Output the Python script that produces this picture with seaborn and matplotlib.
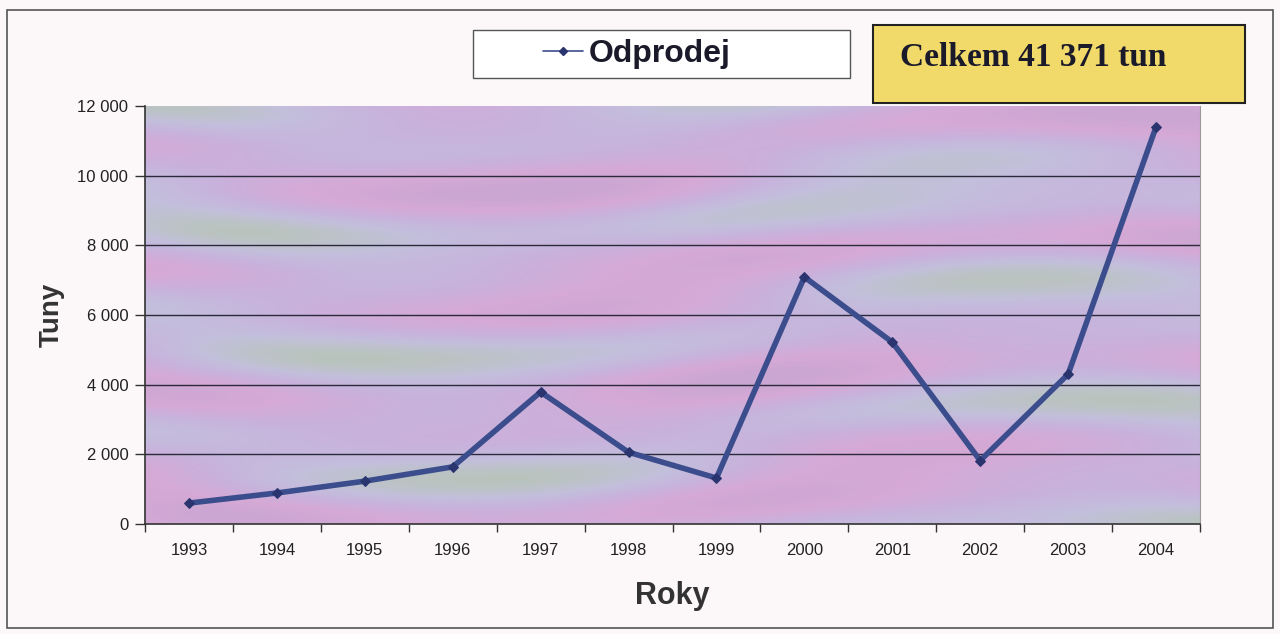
import numpy as np
import pandas as pd
import matplotlib
matplotlib.use("Agg")
import matplotlib.pyplot as plt
import seaborn as sns
from matplotlib.colors import LinearSegmentedColormap
from matplotlib.lines import Line2D
from matplotlib.patches import Rectangle
from matplotlib.ticker import FixedLocator, FuncFormatter

# ---- data ----
years = ["1993", "1994", "1995", "1996", "1997", "1998",
         "1999", "2000", "2001", "2002", "2003", "2004"]
odprodej = [600, 890, 1230, 1640, 3790, 2060, 1320, 7090, 5220, 1820, 4300, 11400]
series_name = "Odprodej"
total_label = "Celkem 41 371 tun"
y_ticks = [0, 2000, 4000, 6000, 8000, 10000, 12000]

df = pd.DataFrame({"Roky": years, "Tuny": odprodej})

sns.set_theme(style="white")
plt.rcParams["font.family"] = ["Liberation Sans", "DejaVu Sans"]

fig = plt.figure(figsize=(12.8, 6.34), dpi=100, facecolor="#fcf8fa")
ax = fig.add_axes([145/1280, 1-524/634, (1200-145)/1280, (524-106)/634])

# textured plot-area background (deterministic pattern)
nx, ny = 600, 240
gx, gy = np.meshgrid(np.linspace(0, 1, nx), np.linspace(0, 1, ny))
field = (np.sin(gy*23 + 2.2*np.sin(gx*5.5)) * 0.6
         + np.sin(gx*9 + gy*4 + 1.3) * 0.35
         + np.cos(gy*41 - gx*3) * 0.25)
cmap = LinearSegmentedColormap.from_list(
    "tex", ["#b9c4bd", "#c3bfdc", "#c8b2dc", "#d6a9d6", "#caa6d2"])
ax.imshow(field, extent=(-0.5, 11.5, 0, 12000), aspect="auto",
          cmap=cmap, origin="lower", zorder=0, interpolation="bicubic")

for v in y_ticks[1:-1]:
    ax.axhline(v, color="#2a2a3a", lw=1.0, zorder=1)

sns.lineplot(data=df, x="Roky", y="Tuny", ax=ax, sort=False,
             color="#3b4d8c", lw=4.0, marker="D", markersize=5,
             markerfacecolor="#2a3570", markeredgecolor="#2a3570", zorder=3)

ax.set_xlim(-0.5, 11.5)
ax.set_ylim(0, 12000)

ax.yaxis.set_major_locator(FixedLocator(y_ticks))
ax.yaxis.set_major_formatter(FuncFormatter(lambda v, p: f"{int(v):,}".replace(",", " ")))
ax.set_xticks(range(len(years)))
ax.set_xticklabels(years)
ax.xaxis.set_minor_locator(FixedLocator(np.arange(-0.5, 12, 1.0)))
ax.tick_params(axis="x", which="major", length=0, pad=14, labelsize=12, labelcolor="#222222")
ax.tick_params(axis="x", which="minor", length=6, width=1, color="#333333", direction="out", bottom=True)
ax.tick_params(axis="y", which="major", length=7, width=1, color="#333333", direction="out",
               left=True, pad=5, labelsize=12, labelcolor="#222222")

for s in ["left", "bottom"]:
    ax.spines[s].set_color("#333333")
    ax.spines[s].set_linewidth(1.2)
ax.spines["right"].set_color("#999999")
ax.spines["right"].set_linewidth(0.8)
ax.spines["top"].set_visible(False)

ax.set_xlabel("Roky", fontsize=22, fontweight="bold", color="#333333", labelpad=16)
ax.set_ylabel("Tuny", fontsize=20, fontweight="bold", color="#333333", labelpad=9)

# outer chart frame
fig.patches.append(Rectangle((7/1280, 1-628/634), (1273-7)/1280, (628-10)/634,
                             transform=fig.transFigure, fill=False,
                             edgecolor="#555555", lw=1.2))

# legend box
fig.patches.append(Rectangle((473/1280, 1-78/634), (850-473)/1280, (78-30)/634,
                             transform=fig.transFigure, facecolor="white",
                             edgecolor="#555555", lw=1.0))
handle = Line2D([], [], color="#3b4d8c", lw=1.2, marker="D", markersize=4,
                markerfacecolor="#2a3570", markeredgecolor="#2a3570")
leg = fig.legend([handle], [series_name], loc="center",
                 bbox_to_anchor=(637/1280, 1-54/634), frameon=False,
                 handlelength=1.25, handletextpad=0.2,
                 borderpad=0.25, borderaxespad=0,
                 prop={"family": "Liberation Sans", "weight": "bold", "size": 23})
for t in leg.get_texts():
    t.set_color("#1a1a2a")

# total box
fig.patches.append(Rectangle((873/1280, 1-103/634), (1245-873)/1280, (103-25)/634,
                             transform=fig.transFigure, facecolor="#f2da6a",
                             edgecolor="#222222", lw=1.5))
fig.text(1033/1280, 1-58/634, total_label, ha="center", va="center",
         family="Liberation Serif", fontweight="bold", fontsize=24, color="#1a1a2a")

fig.savefig("out.png", dpi=100, facecolor=fig.get_facecolor())
